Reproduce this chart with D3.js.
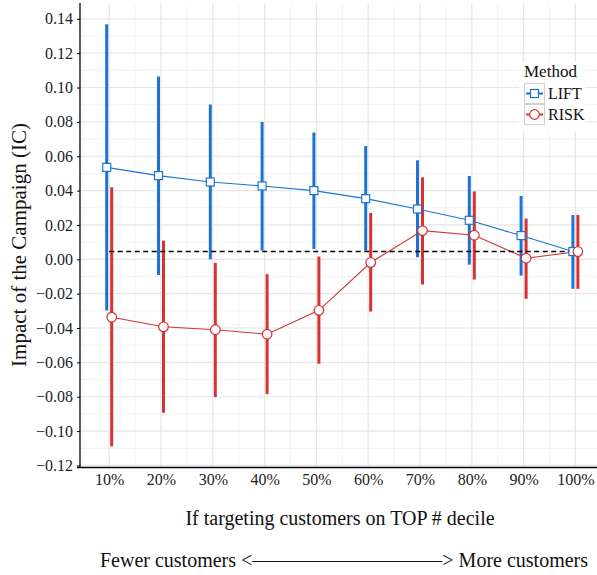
<!DOCTYPE html>
<html>
<head>
<meta charset="utf-8">
<script src="https://cdn.jsdelivr.net/npm/d3@7"></script>
<style>
  body { margin: 0; background: #fff; }
</style>
</head>
<body>
<svg id="chart" width="597" height="575" font-family="Liberation Serif, serif"></svg>
<script>
// deciles on the x axis
const deciles = ['10%', '20%', '30%', '40%', '50%', '60%', '70%', '80%', '90%', '100%']

// LIFT: mean impact and interval
const liftMean = [0.0535, 0.0487, 0.0450, 0.0427, 0.0400, 0.0353, 0.0293, 0.0227, 0.0138, 0.0045]
const liftLow = [-0.0298, -0.0091, 0.0000, 0.0051, 0.0060, 0.0050, 0.0012, -0.0031, -0.0095, -0.0172]
const liftHigh = [0.1369, 0.1064, 0.0901, 0.0799, 0.0738, 0.0659, 0.0576, 0.0485, 0.0369, 0.0258]

// RISK: mean impact and interval
const riskMean = [-0.0337, -0.0393, -0.0410, -0.0436, -0.0297, -0.0019, 0.0167, 0.0140, 0.0006, 0.0045]
const riskLow = [-0.1089, -0.0893, -0.0802, -0.0785, -0.0608, -0.0304, -0.0147, -0.0118, -0.0230, -0.0172]
const riskHigh = [0.0419, 0.0109, -0.0021, -0.0087, 0.0016, 0.0270, 0.0477, 0.0395, 0.0237, 0.0258]

// reference level (dashed)
const baseline = 0.0045

const yTicks = [-0.12, -0.10, -0.08, -0.06, -0.04, -0.02, 0, 0.02, 0.04, 0.06, 0.08, 0.10, 0.12, 0.14]

const colors = { LIFT: '#1c74d2', RISK: '#d63232' }
const serif = 'Liberation Serif, Times New Roman, serif'

const panelLeft = 80
const panelRight = 597
const panelTop = 3
const panelBottom = 467.5
const dodge = 2.5

const series = [
  { name: 'LIFT', mean: liftMean, low: liftLow, high: liftHigh, shift: -dodge, shape: 'square' },
  { name: 'RISK', mean: riskMean, low: riskLow, high: riskHigh, shift: dodge, shape: 'circle' },
]

const svg = d3.select('#chart')

const x = d3.scalePoint().domain(deciles).range([109.2, 575.4])
const step = x.step()
const y = d3.scaleLinear().domain([-0.1212, 0.1492]).range([panelBottom, panelTop])

// grid
const grid = svg.append('g')
const minorY = d3.range(-0.13, 0.15, 0.02).filter((v) => y(v) > panelTop && y(v) < panelBottom)
grid.selectAll('.minor-y')
  .data(minorY)
  .join('line')
  .attr('x1', panelLeft).attr('x2', panelRight)
  .attr('y1', (d) => y(d)).attr('y2', (d) => y(d))
  .attr('stroke', '#f3f3f3').attr('stroke-width', 1)
const minorX = deciles.map((d) => x(d) - step / 2).concat([x('100%') + step / 2])
grid.selectAll('.minor-x')
  .data(minorX.filter((v) => v > panelLeft && v < panelRight))
  .join('line')
  .attr('x1', (d) => d).attr('x2', (d) => d)
  .attr('y1', panelTop).attr('y2', panelBottom)
  .attr('stroke', '#f3f3f3').attr('stroke-width', 1)
grid.selectAll('.major-y')
  .data(yTicks)
  .join('line')
  .attr('x1', panelLeft).attr('x2', panelRight)
  .attr('y1', (d) => y(d)).attr('y2', (d) => y(d))
  .attr('stroke', '#e6e6e6').attr('stroke-width', 1.2)
grid.selectAll('.major-x')
  .data(deciles)
  .join('line')
  .attr('x1', (d) => x(d)).attr('x2', (d) => x(d))
  .attr('y1', panelTop).attr('y2', panelBottom)
  .attr('stroke', '#e6e6e6').attr('stroke-width', 1.2)

// error bars
for (const s of series) {
  svg.append('g')
    .selectAll('line')
    .data(deciles)
    .join('line')
    .attr('x1', (d) => x(d) + s.shift).attr('x2', (d) => x(d) + s.shift)
    .attr('y1', (d, i) => y(s.low[i])).attr('y2', (d, i) => y(s.high[i]))
    .attr('stroke', colors[s.name])
    .attr('stroke-width', 3)
}

// connecting lines
for (const s of series) {
  const line = d3.line()
    .x((d) => x(d) + s.shift)
    .y((d, i) => y(s.mean[i]))
  svg.append('path')
    .datum(deciles)
    .attr('fill', 'none')
    .attr('stroke', colors[s.name])
    .attr('stroke-width', 1.1)
    .attr('d', line)
}

// dashed reference
svg.append('line')
  .attr('x1', x('10%')).attr('x2', x('100%'))
  .attr('y1', y(baseline)).attr('y2', y(baseline))
  .attr('stroke', '#000')
  .attr('stroke-width', 1.5)
  .attr('stroke-dasharray', '5,3.5')

// points
const drawMarker = (g, shape, cx, cy, color) => {
  if (shape === 'square') {
    g.append('rect')
      .attr('x', cx - 4).attr('y', cy - 4)
      .attr('width', 8).attr('height', 8)
      .attr('fill', '#fff').attr('stroke', color).attr('stroke-width', 1.2)
  } else {
    g.append('circle')
      .attr('cx', cx).attr('cy', cy).attr('r', 4.8)
      .attr('fill', '#fff').attr('stroke', color).attr('stroke-width', 1.2)
  }
}
for (const s of series) {
  const g = svg.append('g')
  deciles.forEach((d, i) => drawMarker(g, s.shape, x(d) + s.shift, y(s.mean[i]), colors[s.name]))
}

// axes
const styleAxis = (g) => {
  g.attr('font-family', serif).attr('font-size', 16)
  g.selectAll('text').attr('fill', '#222')
  g.selectAll('line, path').attr('stroke', '#000')
}

svg.append('g')
  .attr('transform', `translate(${panelLeft},0)`)
  .call(d3.axisLeft(y).tickValues(yTicks).tickFormat(d3.format('.2f')).tickSize(3).tickPadding(4))
  .call(styleAxis)
  .call((g) => g.select('.domain').attr('d', `M0,${panelTop}V${panelBottom}`).attr('stroke-width', 1.3))

svg.append('g')
  .attr('transform', `translate(0,${panelBottom})`)
  .call(d3.axisBottom(x).tickSize(0).tickPadding(6))
  .call(styleAxis)
  .call((g) => g.select('.domain').attr('d', `M${panelLeft - 3},0H${panelRight}`).attr('stroke-width', 1.3))

// titles
svg.append('text')
  .attr('transform', 'translate(26,245) rotate(-90)')
  .attr('text-anchor', 'middle')
  .attr('font-family', serif)
  .attr('font-size', 21)
  .attr('fill', '#111')
  .text('Impact of the Campaign (IC)')

svg.append('text')
  .attr('x', 340).attr('y', 525)
  .attr('text-anchor', 'middle')
  .attr('font-family', serif)
  .attr('font-size', 20)
  .attr('fill', '#111')
  .text('If targeting customers on TOP # decile')

svg.append('text')
  .attr('x', 344).attr('y', 567)
  .attr('text-anchor', 'middle')
  .attr('font-family', serif)
  .attr('font-size', 20)
  .attr('fill', '#111')
  .text('Fewer customers <' + '\u2013'.repeat(19) + '> More customers')

// legend
const legend = svg.append('g').attr('font-family', serif)
legend.append('rect')
  .attr('x', 519).attr('y', 62).attr('width', 66).attr('height', 69)
  .attr('fill', '#fff')
legend.append('text')
  .attr('x', 524).attr('y', 77)
  .attr('font-size', 17)
  .attr('fill', '#111')
  .text('Method')
series.forEach((s, i) => {
  const top = 83 + i * 21
  legend.append('rect')
    .attr('x', 524.5).attr('y', top + 0.5).attr('width', 20).attr('height', 20)
    .attr('fill', '#fff').attr('stroke', '#d0d0d0').attr('stroke-width', 1)
  legend.append('line')
    .attr('x1', 526).attr('x2', 543)
    .attr('y1', top + 10.5).attr('y2', top + 10.5)
    .attr('stroke', colors[s.name]).attr('stroke-width', 2)
  drawMarker(legend, s.shape, 534.5, top + 10.5, colors[s.name])
  legend.append('text')
    .attr('x', 548).attr('y', top + 10.5)
    .attr('dy', '0.35em')
    .attr('font-size', 16)
    .attr('fill', '#111')
    .text(s.name)
})
</script>
</body>
</html>
